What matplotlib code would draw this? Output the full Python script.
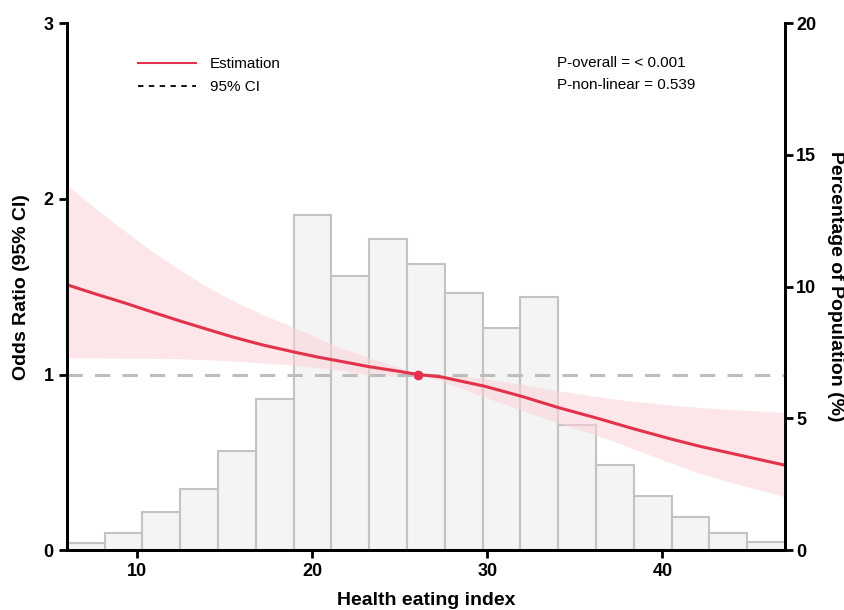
import matplotlib.pyplot as plt
import numpy as np

# histogram of the index (percentage of population per bin)
bin_lo = 6
bin_hi = 47
pct = [0.28, 0.66, 1.46, 2.34, 3.76, 5.72, 12.71, 10.42, 11.81, 10.86,
       9.77, 8.44, 9.60, 4.77, 3.25, 2.04, 1.27, 0.67, 0.32]

# restricted cubic spline estimate and 95% CI
hei = [5.95, 7.6, 9.39, 10.9, 12.46, 14.0, 15.5, 17.2, 18.94, 20.3, 21.6, 23.3,
       24.86, 26.05, 27.35, 29.83, 31.93, 34.13, 36.33, 38.4, 40.53, 42.2, 43.96, 47.0]
odds = [1.513, 1.46, 1.405, 1.355, 1.305, 1.258, 1.213, 1.168, 1.129, 1.10, 1.076, 1.044,
        1.02, 1.0, 0.987, 0.934, 0.877, 0.81, 0.75, 0.69, 0.632, 0.59, 0.551, 0.484]
upper = [2.084, 1.95, 1.81, 1.70, 1.595, 1.50, 1.42, 1.34, 1.27, 1.21, 1.155, 1.095,
         1.045, 1.0, 0.998, 0.978, 0.945, 0.907, 0.873, 0.847, 0.826, 0.812, 0.801, 0.784]
lower = [1.095, 1.094, 1.093, 1.092, 1.09, 1.085, 1.077, 1.066, 1.054, 1.04, 1.025, 0.995,
         0.99, 1.0, 0.964, 0.873, 0.797, 0.721, 0.652, 0.575, 0.495, 0.435, 0.385, 0.304]
ref_x = 26.05

red = '#E2324C'
plt.rcParams['font.family'] = ['Liberation Sans', 'DejaVu Sans']

fig = plt.figure(figsize=(8.45, 6.10), dpi=100)
ax = fig.add_axes([0.079, 0.098, 0.850, 0.864])
ax2 = ax.twinx()

edges = np.linspace(bin_lo, bin_hi, len(pct) + 1)
ax2.bar(edges[:-1], pct, width=np.diff(edges), align='edge',
        color='#F4F4F4', edgecolor='#C3C3C3', linewidth=1.5)
ax2.set_ylim(0, 20)
ax2.set_yticks([0, 5, 10, 15, 20])

# odds ratio axis drawn above the bars
ax.set_zorder(ax2.get_zorder() + 1)
ax.patch.set_visible(False)

ax.fill_between(hei, lower, upper, color='#FBD3D7', alpha=0.55, linewidth=0)
ax.axhline(1, color='#BDBDBD', linewidth=2.2, linestyle=(0, (5, 4)))
ax.plot(hei, odds, color=red, linewidth=2.2)
ax.plot([ref_x], [1.0], 'o', color=red, markersize=6)

ax.set_xlim(bin_lo, bin_hi)
ax.set_ylim(0, 3)
ax.set_xticks([10, 20, 30, 40])
ax.set_yticks([0, 1, 2, 3])

for a in (ax, ax2):
    for s in a.spines.values():
        s.set_linewidth(2)
    a.spines['top'].set_visible(False)
    a.tick_params(width=2, length=6, labelsize=13)
    for lab in a.get_xticklabels() + a.get_yticklabels():
        lab.set_fontweight('bold')
ax2.tick_params(axis='y', pad=2)

ax.set_xlabel('Health eating index', fontsize=14, fontweight='bold', labelpad=8)
ax.set_ylabel('Odds Ratio (95% CI)', fontsize=14, fontweight='bold', labelpad=10)
ax2.set_ylabel('Percentage of Population (%)', fontsize=14, fontweight='bold',
               rotation=270, labelpad=20)

# legend and p-values
h1, = ax.plot([], [], color=red, linewidth=1.5)
h2, = ax.plot([], [], color='black', linewidth=1.3, linestyle=(0, (3, 3)))
ax.legend([h1, h2], ['Estimation', '95% CI'], loc='upper left',
          bbox_to_anchor=(0.08, 0.962), frameon=False, fontsize=11,
          handlelength=3.8, handletextpad=0.9, labelspacing=0.6)
ax.text(0.683, 0.925, 'P-overall = < 0.001', transform=ax.transAxes, fontsize=11, va='center')
ax.text(0.683, 0.883, 'P-non-linear = 0.539', transform=ax.transAxes, fontsize=11, va='center')

fig.savefig('out.png', dpi=100)
